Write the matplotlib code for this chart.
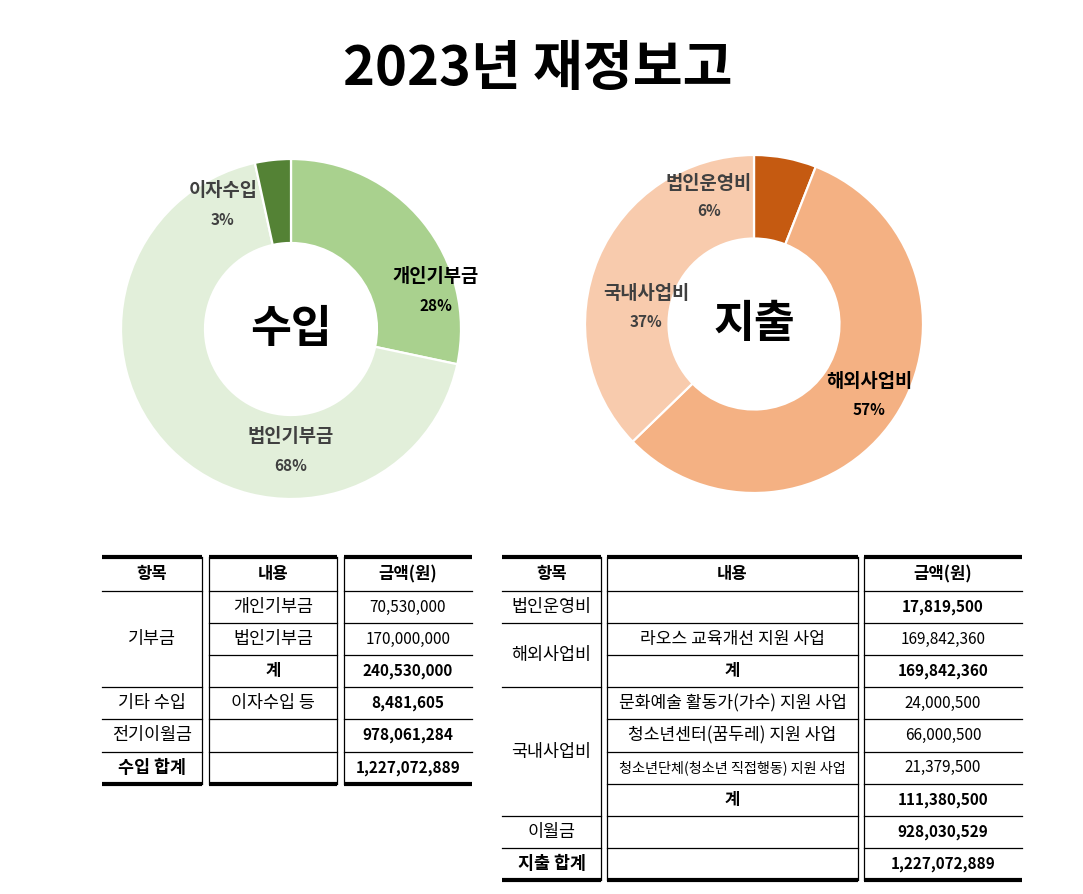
import matplotlib
matplotlib.use("Agg")
import matplotlib.pyplot as plt

plt.rcParams["font.family"] = ["Noto Sans CJK KR", "DejaVu Sans"]

# --- data -------------------------------------------------------------
title = "2023년 재정보고"

income_labels = ["개인기부금", "법인기부금", "이자수입"]
income_values = [70530000, 170000000, 8481605]
income_colors = ["#A9D18E", "#E2EFDA", "#548235"]
income_text_colors = ["#000000", "#404040", "#404040"]

expense_labels = ["법인운영비", "해외사업비", "국내사업비"]
expense_values = [17819500, 169842360, 111380500]
expense_colors = ["#C55A11", "#F4B183", "#F8CBAD"]
expense_text_colors = ["#404040", "#000000", "#404040"]

headers = ["항목", "내용", "금액(원)"]

income_groups = [("기부금", 3), ("기타 수입", 1), ("전기이월금", 1), ("수입 합계", 1)]
income_items = ["개인기부금", "법인기부금", "계", "이자수입 등", "", ""]
income_amounts = ["70,530,000", "170,000,000", "240,530,000", "8,481,605",
                  "978,061,284", "1,227,072,889"]
income_bold = [False, False, True, True, True, True]

expense_groups = [("법인운영비", 1), ("해외사업비", 2), ("국내사업비", 4),
                  ("이월금", 1), ("지출 합계", 1)]
expense_items = ["", "라오스 교육개선 지원 사업", "계",
                 "문화예술 활동가(가수) 지원 사업", "청소년센터(꿈두레) 지원 사업",
                 "청소년단체(청소년 직접행동) 지원 사업", "계", "", ""]
expense_amounts = ["17,819,500", "169,842,360", "169,842,360", "24,000,500",
                   "66,000,500", "21,379,500", "111,380,500", "928,030,529",
                   "1,227,072,889"]
expense_bold = [True, False, True, False, False, False, True, True, True]

# --- layout -----------------------------------------------------------
W, H = 1083, 894
fig = plt.figure(figsize=(W / 100, H / 100), dpi=100)

page = fig.add_axes([0, 0, 1, 1])
page.set_xlim(0, W)
page.set_ylim(H, 0)
page.axis("off")

page.text(538, 70, title, ha="center", va="center", fontsize=39,
          fontweight="black", color="black")


def donut(cx, cy, R, values, colors, names, tcolors, center_text, spots):
    pad = 1.3 * R
    ax = fig.add_axes([(cx - pad) / W, (H - cy - pad) / H, 2 * pad / W, 2 * pad / H])
    ax.pie(values, colors=colors, startangle=90, counterclock=False,
           wedgeprops=dict(width=1 - 86 / 170, edgecolor="white", linewidth=1.6))
    ax.set_xlim(-1.3, 1.3)
    ax.set_ylim(-1.3, 1.3)
    ax.axis("off")
    total = sum(values)
    for v, name, c, (x, y) in zip(values, names, tcolors, spots):
        ax.text(x, y, name, ha="center", va="center", fontsize=13.5,
                fontweight="bold", color=c)
        ax.text(x, y - 0.168, f"{round(v / total * 100)}%", ha="center",
                va="center", fontsize=11, fontweight="bold", color=c)
    ax.text(0, 0, center_text, ha="center", va="center", fontsize=32,
            fontweight="bold", color="black")


donut(291, 329, 170, income_values, income_colors, income_labels,
      income_text_colors, "수입", [(0.85, 0.306), (0.0, -0.635), (-0.4, 0.812)])
donut(754, 324, 169, expense_values, expense_colors, expense_labels,
      expense_text_colors, "지출", [(-0.266, 0.834), (0.68, -0.343), (-0.639, 0.178)])


def table(ax, cols, groups, items, amounts, bold, item_sizes, top=557,
          head_h=34, row_h=32.1):
    n = len(items)
    y0 = top + head_h
    bottom = y0 + n * row_h
    for x0, x1 in cols:
        ax.plot([x0, x1], [top, top], color="black", lw=3, solid_capstyle="butt")
        ax.plot([x0, x1], [bottom, bottom], color="black", lw=3, solid_capstyle="butt")
    for x in [cols[0][1], cols[1][0], cols[1][1], cols[2][0]]:
        ax.plot([x, x], [top, bottom], color="black", lw=0.9)
    # header
    for (x0, x1), h in zip(cols, headers):
        ax.text((x0 + x1) / 2, top + head_h / 2, h, ha="center", va="center",
                fontsize=12, fontweight="bold")
    # row lines in content / amount columns
    for i in range(n):
        y = y0 + i * row_h
        for x0, x1 in cols[1:]:
            ax.plot([x0, x1], [y, y], color="black", lw=0.9)
    # merged group cells
    k = 0
    for name, span in groups:
        y = y0 + k * row_h
        ax.plot([cols[0][0], cols[0][1]], [y, y], color="black", lw=0.9)
        wt = "bold" if "합계" in name else "normal"
        ax.text(sum(cols[0]) / 2, y + span * row_h / 2, name, ha="center",
                va="center", fontsize=12.5, fontweight=wt)
        k += span
    for i in range(n):
        yc = y0 + (i + 0.5) * row_h
        wt = "bold" if items[i] == "계" else "normal"
        ax.text(sum(cols[1]) / 2, yc, items[i], ha="center", va="center",
                fontsize=item_sizes[i], fontweight=wt)
        ax.text(sum(cols[2]) / 2, yc, amounts[i], ha="center", va="center",
                fontsize=11, fontweight="bold" if bold[i] else "normal")


table(page, [(102, 202), (209, 337), (344, 472)], income_groups, income_items,
      income_amounts, income_bold, [12.5, 12.5, 12, 12.5, 12.5, 12.5])
table(page, [(502, 601), (607, 858), (864, 1022)], expense_groups, expense_items,
      expense_amounts, expense_bold, [12.5, 12.3, 12, 12.3, 12.3, 10.2, 12, 12.5, 12.5])

fig.savefig("out.png", dpi=100)
